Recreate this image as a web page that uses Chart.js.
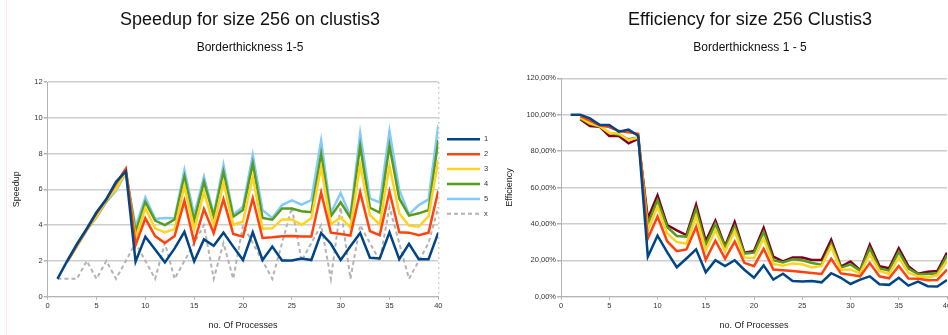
<!DOCTYPE html>
<html>
<head>
<meta charset="utf-8">
<script src="https://cdn.jsdelivr.net/npm/chart.js@4/dist/chart.umd.min.js"></script>
<style>
  html, body { margin: 0; padding: 0; background: #fff; overflow: hidden; }
  body { width: 948px; height: 335px; position: relative; }
  .box { position: absolute; top: 0; }
  #speedup-box { left: 0; }
  #efficiency-box { left: 500px; }
  .edge { position: absolute; left: 6px; top: 0; width: 1px; height: 335px; background: #fbe6ee; }
</style>
</head>
<body>
<div class="edge"></div>
<div class="box" id="speedup-box"><canvas id="speedup-chart" width="500" height="335"></canvas></div>
<div class="box" id="efficiency-box"><canvas id="efficiency-chart" width="500" height="335"></canvas></div>
<script>
// Processes used for each measurement
const procs = [1, 2, 3, 4, 5, 6, 7, 8, 9, 10, 11, 12, 13, 14, 15, 16, 17, 18, 19, 20,
               21, 22, 23, 24, 25, 26, 27, 28, 29, 30, 31, 32, 33, 34, 35, 36, 37, 38, 39, 40];

// Speedup per borderthickness
const speedup1 = [1.0, 2.0, 2.95, 3.8, 4.72, 5.44, 6.42, 7.0, 1.96, 3.35, 2.64, 1.92, 2.7, 3.63, 1.98, 3.2, 2.85, 3.58, 2.8, 2.05,
                  3.6, 2.05, 2.8, 2.02, 2.02, 2.14, 2.05, 3.56, 2.96, 2.05, 2.82, 3.56, 2.18, 2.14, 3.6, 2.1, 2.96, 2.1, 2.1, 3.58];
const speedup2 = [null, 1.98, 2.9, 3.76, 4.66, 5.45, 6.33, 7.15, 2.89, 4.38, 3.39, 3.0, 3.39, 5.36, 3.04, 4.9, 3.55, 5.44, 3.5, 3.35,
                  5.5, 3.28, 3.32, 3.38, 3.39, 3.37, 3.36, 5.82, 3.58, 3.5, 3.42, 5.84, 3.67, 3.44, 5.88, 3.6, 3.58, 3.44, 3.58, 5.92];
const speedup3 = [null, 1.97, 2.86, 3.75, 4.5, 5.38, 6.02, 6.98, 3.28, 4.95, 3.82, 3.6, 3.78, 6.18, 3.78, 5.82, 4.02, 6.38, 4.02, 4.2,
                  6.7, 3.8, 3.82, 4.32, 4.32, 4.02, 4.38, 7.24, 4.05, 4.42, 3.87, 7.36, 4.56, 4.04, 7.32, 4.66, 3.97, 3.91, 4.5, 7.64];
const speedup4 = [null, 1.96, 2.85, 3.74, 4.5, 5.34, 6.05, 7.0, 3.62, 5.3, 4.25, 4.0, 4.32, 6.72, 4.25, 6.42, 4.5, 6.98, 4.47, 4.84,
                  7.45, 4.4, 4.3, 4.93, 4.93, 4.78, 4.72, 7.97, 4.5, 5.28, 4.41, 8.42, 4.97, 4.7, 8.44, 5.49, 4.53, 4.66, 4.84, 8.75];
const speedup5 = [null, 1.95, 2.82, 3.74, 4.42, 5.3, 5.92, 6.9, 3.9, 5.55, 4.35, 4.4, 4.38, 7.08, 4.56, 6.7, 4.6, 7.38, 4.58, 5.03,
                  7.92, 4.84, 4.4, 5.12, 5.38, 5.14, 5.4, 8.72, 4.68, 5.8, 4.5, 9.12, 5.49, 5.27, 9.25, 5.96, 4.6, 5.12, 5.44, 9.59];
const speedupX = [1, 1, 1, 2, 1, 2, 1, 2, 3, 2, 1, 3, 1, 2, 3, 4, 1, 3, 1, 4,
                  3, 2, 1, 3, 5, 2, 3, 4, 1, 5, 1, 4, 3, 2, 5, 3, 1, 2, 3, 5];

// Efficiency (%) per borderthickness
const eff1 = [100, 100, 98, 94.5, 94.4, 90.7, 91.8, 88.5, 22, 33.5, 24.5, 16.2, 21, 26, 13.4, 20.1, 16.8, 20, 14.8, 10.4,
              17.2, 9.4, 12.6, 8.6, 8.4, 8.6, 7.9, 12.9, 10.4, 7.0, 9.4, 11.2, 6.8, 6.5, 10.4, 6.1, 8.3, 5.8, 5.6, 9.2];
const eff2 = [null, 99.2, 96.7, 94.2, 93.2, 91, 90.3, 89.5, 32, 44, 30.5, 25, 26, 38.3, 20.3, 30.8, 20.9, 30.3, 18.6, 16.8,
              26.3, 14.9, 14.5, 14.1, 13.6, 13, 12.5, 20.8, 12.8, 12.1, 11.2, 18.5, 11.2, 10.1, 16.9, 10.0, 9.8, 9.1, 9.2, 14.9];
const eff3 = [null, 98.5, 95.3, 93.8, 90, 89.7, 86, 87.4, 36.6, 49.5, 34.8, 30, 29.2, 44.1, 25.6, 36.6, 25, 36.1, 21.6, 21.1,
              32, 18, 17, 18.3, 17.8, 16.1, 16.9, 27.5, 14.8, 15, 12.8, 23.3, 14.2, 12.5, 21.5, 13.2, 11.2, 10.6, 11.9, 19.6];
const eff4 = [null, 98, 95, 93.5, 90, 89, 86.5, 87.5, 40, 53, 38.3, 33.4, 33, 48, 28.5, 40, 27, 38.5, 23.7, 24.2,
              35.5, 20, 18.8, 20.6, 20, 18.5, 17.6, 29, 16, 17.7, 14.2, 26.5, 15.5, 14.3, 24.6, 15.4, 12.4, 12.5, 12.7, 22.6];
const eff5 = [null, 97.5, 93.8, 93.4, 88.3, 88.3, 84.3, 86.7, 43, 55.7, 39.4, 36.5, 33.9, 50.5, 30.6, 41.8, 27.8, 41, 24.2, 25.1,
              37.8, 22, 19.4, 21.5, 21.5, 20.2, 20.2, 31.3, 16.6, 19.4, 14.6, 28.6, 16.8, 15.6, 26.6, 16.8, 12.6, 13.7, 14.1, 24.2];

const speedupTicks = [0, 2, 4, 6, 8, 10, 12];
const effTicks = [0, 20, 40, 60, 80, 100, 120];

Chart.defaults.font.family = '"Liberation Sans", Arial, sans-serif';
Chart.defaults.color = '#333';

function points(values) {
    return procs.map((p, i) => ({ x: p, y: values[i] }));
}

function line(label, values, color, extra) {
    return Object.assign({
        label: label,
        data: points(values),
        borderColor: color,
        backgroundColor: color,
        borderWidth: 2.5,
        pointRadius: 0,
        tension: 0,
        fill: false
    }, extra || {});
}

// Legend entries and dotted right edge, drawn by hand next to the plot
const legendLines = {
    id: 'legendLines',
    afterDraw(chart, args, opts) {
        if (!opts.show) return;
        const { ctx, chartArea } = chart;
        ctx.save();
        ctx.strokeStyle = '#bdbdbd';
        ctx.lineWidth = 1;
        ctx.setLineDash([2, 3]);
        ctx.beginPath();
        ctx.moveTo(chartArea.right + 0.5, chartArea.top);
        ctx.lineTo(chartArea.right + 0.5, chartArea.bottom);
        ctx.stroke();

        chart.data.datasets.forEach((ds, i) => {
            const y = opts.top + i * opts.spacing;
            ctx.setLineDash(ds.borderDash || []);
            ctx.strokeStyle = ds.borderColor;
            ctx.lineWidth = ds.borderWidth;
            ctx.beginPath();
            ctx.moveTo(opts.x, y);
            ctx.lineTo(opts.x + opts.width, y);
            ctx.stroke();
            ctx.fillStyle = '#333';
            ctx.font = '7.5px "Liberation Sans", Arial, sans-serif';
            ctx.textBaseline = 'middle';
            ctx.fillText(ds.label, opts.x + opts.width + 4, y);
        });
        ctx.restore();
    }
};

function axisOptions(cfg) {
    return {
        x: {
            type: 'linear',
            min: 0,
            max: 40,
            ticks: { stepSize: 5, padding: 2, font: { size: 7.5 }, maxRotation: 0 },
            grid: { drawOnChartArea: false, tickLength: 3, color: '#b3b3b3' },
            border: { color: '#b3b3b3' },
            title: { display: true, text: 'no. Of Processes', font: { size: 9 }, color: '#222', padding: { top: 0, bottom: 3.6 } },
            afterFit: s => { s.height = 38.3; }
        },
        y: {
            min: 0,
            max: cfg.max,
            afterBuildTicks: s => { s.ticks = cfg.ticks.map(v => ({ value: v })); },
            ticks: { padding: 1, font: { size: 7.5 }, callback: cfg.format },
            grid: { color: '#cdcdcd', lineWidth: 1.5, tickLength: 4, tickColor: '#b3b3b3' },
            border: { color: '#b3b3b3' },
            title: { display: true, text: cfg.yTitle, font: { size: 9 }, color: '#222', padding: { top: cfg.yTitlePad, bottom: 0 } },
            afterFit: s => { s.width = cfg.yWidth; }
        },
        // empty axis that keeps room right of the plot
        side: {
            position: 'right',
            display: true,
            grid: { display: false, drawTicks: false },
            border: { display: false },
            ticks: { display: false },
            afterFit: s => { s.width = cfg.sideWidth; }
        }
    };
}

function titleOptions(title, subtitle, gap) {
    return {
        title: {
            display: true, text: title, color: '#111',
            font: { size: 18, weight: 'normal' },
            padding: { top: 9.2, bottom: 0 }
        },
        subtitle: {
            display: true, text: subtitle, color: '#111',
            font: { size: 12 },
            padding: { top: 10, bottom: gap }
        },
        legend: { display: false },
        tooltip: { enabled: false }
    };
}

new Chart(document.getElementById('speedup-chart').getContext('2d'), {
    type: 'line',
    data: {
        datasets: [
            line('1', speedup1, '#004586'),
            line('2', speedup2, '#ff420e'),
            line('3', speedup3, '#ffd320'),
            line('4', speedup4, '#579d1c'),
            line('5', speedup5, '#83caff'),
            line('x', speedupX, '#b3b3b3', { borderDash: [4, 3], borderWidth: 2 })
        ]
    },
    options: {
        responsive: false,
        animation: false,
        layout: { padding: 0 },
        scales: axisOptions({
            max: 12, ticks: speedupTicks, format: v => v,
            yTitle: 'Speedup', yTitlePad: 11.3, yWidth: 47.7, sideWidth: 61.7
        }),
        plugins: Object.assign(titleOptions('Speedup for size 256 on clustis3', 'Borderthickness 1-5', 26.8), {
            legendLines: { show: true, x: 447, width: 33, top: 139.3, spacing: 14.9 }
        })
    },
    plugins: [legendLines]
});

new Chart(document.getElementById('efficiency-chart').getContext('2d'), {
    type: 'line',
    data: {
        datasets: [
            line('1', eff1, '#004586'),
            line('2', eff2, '#ff420e'),
            line('3', eff3, '#ffd320'),
            line('4', eff4, '#579d1c'),
            line('5', eff5, '#7e0021')
        ]
    },
    options: {
        responsive: false,
        animation: false,
        layout: { padding: 0 },
        scales: axisOptions({
            max: 120, ticks: effTicks, format: v => v.toFixed(2).replace('.', ',') + '%',
            yTitle: 'Efficiency', yTitlePad: 4.6, yWidth: 61, sideWidth: 53
        }),
        plugins: Object.assign(titleOptions('Efficiency for size 256 Clustis3', 'Borderthickness 1 - 5', 23.1), {
            legendLines: { show: false }
        })
    },
    plugins: [legendLines]
});
</script>
</body>
</html>
